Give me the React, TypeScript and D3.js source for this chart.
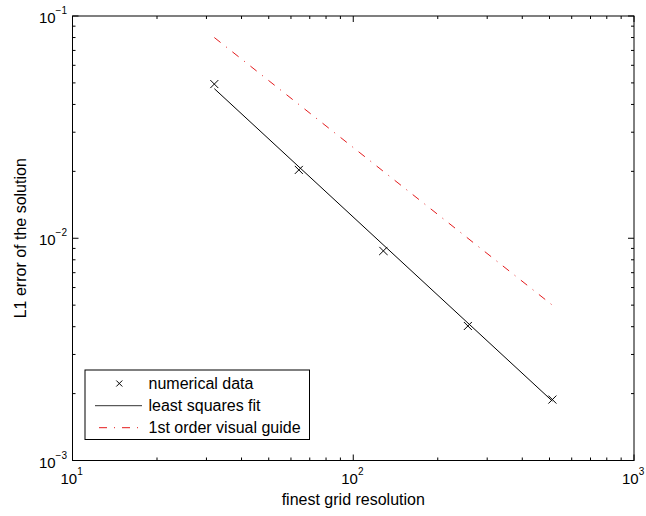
import React from "react";
import * as d3 from "d3";

const resolutions = [32, 64, 128, 256, 512];
const errors = [0.0494, 0.0203, 0.00877, 0.00403, 0.00188];
const fitX = [32, 512];
const fitY = [0.0471, 0.00185];
const guideX = [32, 512];
const guideY = [0.08, 0.005];
const xDecades = [10, 100, 1000];
const xDecadeExp = ["1", "2", "3"];
const yDecades = [0.001, 0.01, 0.1];
const yDecadeExp = ["\u22123", "\u22122", "\u22121"];
const legendLabels = ["numerical data", "least squares fit", "1st order visual guide"];
const xLabel = "finest grid resolution";
const yLabel = "L1 error of the solution";

const W = 646, H = 516;
const L = 72.5, R = 634, T = 16, B = 460.5;
const FONT = "'Liberation Sans', Arial, Helvetica, sans-serif";

export default function App() {
  const x = d3.scaleLog().domain([10, 1000]).range([L, R]);
  const y = d3.scaleLog().domain([0.001, 0.1]).range([B, T]);

  const minorX: number[] = [];
  for (const d of [10, 100]) for (let k = 2; k <= 9; k++) minorX.push(d * k);
  const minorY: number[] = [];
  for (const d of [0.001, 0.01]) for (let k = 2; k <= 9; k++) minorY.push(d * k);

  const line = d3.line<[number, number]>().x((d) => x(d[0])).y((d) => y(d[1]));
  const fitPts = fitX.map((v, i) => [v, fitY[i]] as [number, number]);
  const guidePts = guideX.map((v, i) => [v, guideY[i]] as [number, number]);

  const major = 6, minor = 3;
  const cross = (cx: number, cy: number, key: string | number) => (
    <g key={key} stroke="#000" strokeWidth={1}>
      <line x1={cx - 4} y1={cy - 4} x2={cx + 4} y2={cy + 4} />
      <line x1={cx - 4} y1={cy + 4} x2={cx + 4} y2={cy - 4} />
    </g>
  );

  const dash = "8,7,1,7";
  const lgX = 85, lgY = 370, lgW = 224.5, lgH = 69.5;
  const rows = [383.5, 405.7, 427.7];

  return (
    <svg width={W} height={H} style={{ position: "absolute", left: 0, top: 0, background: "#fff" }} fontFamily={FONT}>
      <rect x={0} y={0} width={W} height={H} fill="#fff" />
      <g stroke="#000" strokeWidth={1}>
        {xDecades.map((v, i) => (
          <g key={"xm" + i}>
            <line x1={x(v)} x2={x(v)} y1={B} y2={B - major} />
            <line x1={x(v)} x2={x(v)} y1={T} y2={T + major} />
          </g>
        ))}
        {minorX.map((v, i) => (
          <g key={"xn" + i}>
            <line x1={x(v)} x2={x(v)} y1={B} y2={B - minor} />
            <line x1={x(v)} x2={x(v)} y1={T} y2={T + minor} />
          </g>
        ))}
        {yDecades.map((v, i) => (
          <g key={"ym" + i}>
            <line x1={L} x2={L + major} y1={y(v)} y2={y(v)} />
            <line x1={R} x2={R - major} y1={y(v)} y2={y(v)} />
          </g>
        ))}
        {minorY.map((v, i) => (
          <g key={"yn" + i}>
            <line x1={L} x2={L + minor} y1={y(v)} y2={y(v)} />
            <line x1={R} x2={R - minor} y1={y(v)} y2={y(v)} />
          </g>
        ))}
      </g>
      <rect x={L} y={T} width={R - L} height={B - T} fill="none" stroke="#000" strokeWidth={1} />

      <g fill="#000">
        {xDecades.map((v, i) => (
          <text key={"xl" + i} x={x(v) - 12} y={484} fontSize={15}>
            10
            <tspan dy={-9} fontSize={10}>{xDecadeExp[i]}</tspan>
          </text>
        ))}
        {yDecades.map((v, i) => (
          <text key={"yl" + i} x={67} y={y(v) + 7} fontSize={15} textAnchor="end">
            10
            <tspan dy={-9} fontSize={10}>{yDecadeExp[i]}</tspan>
          </text>
        ))}
      </g>

      <path d={line(guidePts) || ""} fill="none" stroke="#e41a1c" strokeWidth={1} strokeDasharray={dash} />
      <path d={line(fitPts) || ""} fill="none" stroke="#000" strokeWidth={1} />
      {resolutions.map((r, i) => cross(x(r), y(errors[i]), i))}

      <text x={(L + R) / 2} y={505} fontSize={16} textAnchor="middle">{xLabel}</text>
      <text transform={`translate(26,${(T + B) / 2}) rotate(-90)`} fontSize={16} textAnchor="middle">{yLabel}</text>

      <rect x={lgX} y={lgY} width={lgW} height={lgH} fill="#fff" stroke="#000" strokeWidth={1} />
      <g>
        <g transform="translate(119.3,383.5)" stroke="#000" strokeWidth={1}>
          <line x1={-3} y1={-3} x2={3} y2={3} />
          <line x1={-3} y1={3} x2={3} y2={-3} />
        </g>
        <line x1={95} x2={142} y1={rows[1]} y2={rows[1]} stroke="#333" strokeWidth={1} />
        <line x1={95} x2={142} y1={rows[2]} y2={rows[2]} stroke="#e41a1c" strokeWidth={1} strokeDasharray={dash} strokeDashoffset={-4} />
        {legendLabels.map((t, i) => (
          <text key={"lg" + i} x={148.5} y={rows[i] + 5.5} fontSize={16}>{t}</text>
        ))}
      </g>
    </svg>
  );
}
